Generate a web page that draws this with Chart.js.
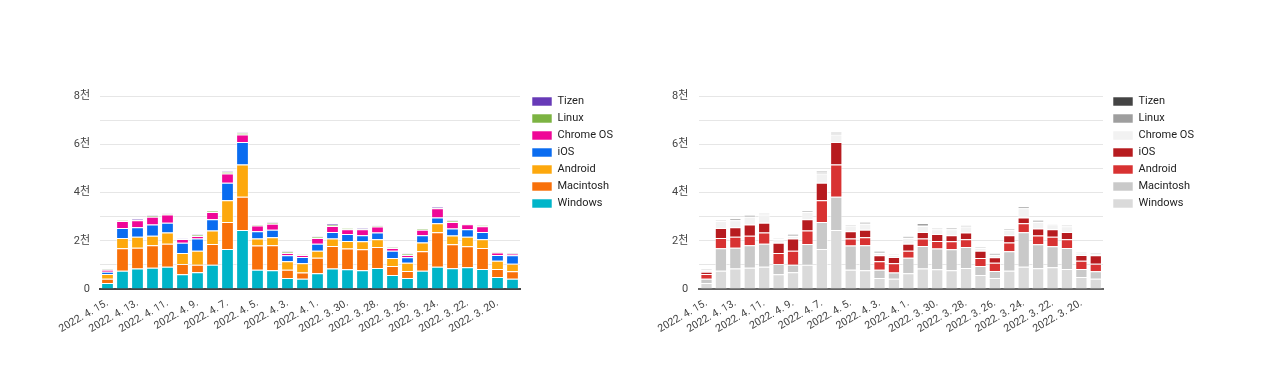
<!DOCTYPE html>
<html><head><meta charset="utf-8">
<script src="https://cdn.jsdelivr.net/npm/chart.js@4.4.1/dist/chart.umd.min.js"></script>
<style>
html,body{margin:0;padding:0;background:#fff;width:1280px;height:386px;overflow:hidden;}
.box{position:absolute;top:0;width:640px;height:386px;}
canvas{display:block;}
</style></head><body>
<div class="box" style="left:0"><canvas id="c1" width="640" height="386"></canvas></div>
<div class="box" style="left:640px"><canvas id="c2" width="640" height="386"></canvas></div>
<script>
const categories = ['2022. 4. 15.','2022. 4. 14.','2022. 4. 13.','2022. 4. 12.','2022. 4. 11.','2022. 4. 10.','2022. 4. 9.','2022. 4. 8.','2022. 4. 7.','2022. 4. 6.','2022. 4. 5.','2022. 4. 4.','2022. 4. 3.','2022. 4. 2.','2022. 4. 1.','2022. 3. 31.','2022. 3. 30.','2022. 3. 29.','2022. 3. 28.','2022. 3. 27.','2022. 3. 26.','2022. 3. 25.','2022. 3. 24.','2022. 3. 23.','2022. 3. 22.','2022. 3. 21.','2022. 3. 20.','2022. 3. 19.'];
const windows   = [250,760,845,885,925,610,690,1010,1660,2450,800,775,455,430,650,845,815,775,870,580,455,760,925,860,900,830,500,430];
const macintosh = [180,930,870,925,955,430,320,860,1120,1370,1000,1035,345,250,650,940,860,870,875,375,290,805,1425,995,870,870,330,305];
const android   = [190,425,455,400,460,455,580,550,900,1345,290,335,350,385,290,305,315,335,320,330,345,360,375,360,400,360,345,315];
const ios       = [100,415,390,460,410,425,500,470,720,930,300,315,250,265,290,275,290,245,275,305,225,300,235,290,305,305,235,350];
const chromeos  = [70,290,290,320,335,150,110,305,385,305,240,240,95,80,235,250,195,250,250,110,95,235,390,275,210,235,100,65];
const linux     = [20,25,20,50,35,15,40,45,60,80,40,50,40,15,40,40,40,30,50,30,40,35,15,40,15,40,30,20];
const tizen     = [10,10,50,15,10,10,15,10,35,20,10,15,15,5,15,45,15,40,20,15,15,10,50,15,10,15,10,10];
const seriesNames = ['Windows','Macintosh','Android','iOS','Chrome OS','Linux','Tizen'];
const yTickLabels = ['0','','2천','','4천','','6천','','8천'];

const seriesValues = [windows, macintosh, android, ios, chromeos, linux, tizen];
const colorPalette = ['#00b5c9','#f8700a','#fda80d','#0a6cf0','#ef0797','#7cb342','#673ab7'];
const grayPalette  = ['#dadada','#c9c9c9','#d83232','#b71b1f','#f2f2f2','#9e9e9e','#444444'];
const FONT = "Roboto, 'Noto Sans CJK KR', sans-serif";
Chart.defaults.font.family = FONT;

const legendPlace = {
  id: 'legendPlace',
  beforeLayout(chart) {
    const lg = chart.legend;
    if (lg && !lg._pf) {
      const f = lg.fit;
      lg.fit = function () { f.call(this); this.width = chart.$geom.legendW; };
      lg._pf = true;
    }
  },
  afterLayout(chart) {
    const lg = chart.legend, g = chart.$geom, p = 6;
    lg.left = g.legendX - p; lg.right = lg.left + 200;
    lg.top = g.legendY - p - 1; lg.bottom = 386;
  }
};

function makeChart(id, colors, g) {
  return new Chart(document.getElementById(id), {
    type: 'bar',
    data: {
      labels: categories,
      datasets: seriesValues.map((vals, i) => ({
        label: seriesNames[i], data: vals, backgroundColor: colors[i],
        borderColor: 'rgba(255,255,255,0.55)', borderWidth: 1,
        barPercentage: 0.85, categoryPercentage: 1
      }))
    },
    options: {
      responsive: false, animation: false, devicePixelRatio: 1,
      layout: { padding: { top: 96, left: 0, right: 0, bottom: 0 } },
      plugins: {
        tooltip: { enabled: false },
        legend: {
          position: 'right', align: 'start', reverse: true,
          labels: { boxWidth: 20, boxHeight: 9, padding: 6, color: '#222', font: { size: 11, family: FONT } }
        }
      },
      scales: {
        x: {
          stacked: true,
          grid: { display: false },
          border: { display: true, color: g.baseColor, width: 2 },
          ticks: {
            autoSkip: false, maxRotation: 30, minRotation: 30, padding: 0,
            color: '#444', font: { size: 10.5, family: FONT },
            callback: (v, i) => (i % 2 === 0 ? categories[i] : '')
          },
          afterFit: s => { s.height = 97; }
        },
        y: {
          stacked: true, min: 0, max: 8000,
          grid: { color: '#e6e6e6', drawTicks: false },
          border: { display: false },
          ticks: {
            stepSize: 1000, padding: g.yPad, color: '#444', font: { size: 11, family: FONT },
            callback: (v, i) => yTickLabels[i]
          },
          afterFit: s => { s.width = g.areaLeft; }
        }
      }
    },
    plugins: [legendPlace]
  });
}

function build(id, colors, g) {
  const pre = { id: 'geom' + id, beforeInit(chart) { chart.$geom = g; } };
  Chart.register(pre);
  makeChart(id, colors, g);
  Chart.unregister(pre);
}
build('c1', colorPalette, { areaLeft: 100, yPad: 10, legendW: 120, legendX: 532, legendY: 97, baseColor: '#444' });
build('c2', grayPalette,  { areaLeft: 59.3, yPad: 11, legendW: 177, legendX: 473, legendY: 97, baseColor: '#666' });
</script>
</body></html>
